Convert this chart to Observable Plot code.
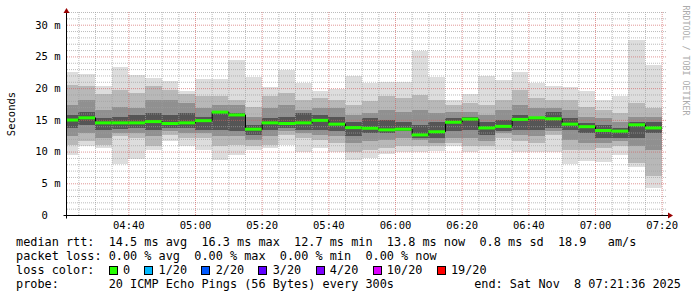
<!DOCTYPE html>
<html><head><meta charset="utf-8">
<script src="https://cdn.jsdelivr.net/npm/d3@7"></script>
<script src="https://cdn.jsdelivr.net/npm/@observablehq/plot@0.6"></script>
<style>
html,body{margin:0;padding:0;background:#fff;}
#chart{width:697px;height:297px;position:relative;overflow:hidden;background:#fff;}
#chart svg{display:block;}
#legend{font-family:"DejaVu Sans Mono",monospace;font-size:11.85px;line-height:14px;white-space:pre;color:#000;padding-left:16px;margin-top:3px;position:relative;}
.sq{display:inline-block;width:9px;height:9px;box-sizing:border-box;border:1px solid #000;vertical-align:-1px;margin-right:calc(2ch - 9px);}
#endtxt{position:absolute;right:16px;top:42px;}
</style></head><body><div id="chart"></div>
<script>
// ---- data ----
const rangeStart = "04:21:36", rangeEnd = "07:21:36";
const slots = ["04:20","04:25","04:30","04:35","04:40","04:45","04:50","04:55","05:00","05:05","05:10","05:15",
  "05:20","05:25","05:30","05:35","05:40","05:45","05:50","05:55","06:00","06:05","06:10","06:15",
  "06:20","06:25","06:30","06:35","06:40","06:45","06:50","06:55","07:00","07:05","07:10","07:15"];
const medianMs = [15.05,15.4,14.6,14.6,14.6,14.8,14.5,14.6,14.95,16.3,15.85,13.6,14.6,14.5,14.6,15.0,14.4,13.85,
  13.75,13.5,13.6,12.7,13.2,14.7,15.2,13.8,14.05,15.15,15.4,15.25,14.4,14.0,13.4,13.3,14.3,13.8];
const maxMs = [22.6,22.3,20.4,23.4,22.1,21.6,21.2,19.6,21.4,21.5,24.5,21.8,20.2,22.8,20.8,19.5,19.9,21.95,
  20.8,20.9,20.9,25.8,21.7,18.05,19.05,21.85,21.3,22.5,20.8,20.4,20.1,19.6,18.05,18.7,27.6,23.6];
const minMs = [9.5,10.95,10.6,8.0,8.85,10.3,11.6,10.95,10.3,8.7,9.5,10.3,10.6,11.05,10.0,10.5,10.0,8.6,
  9.05,9.6,9.9,10.0,10.1,10.8,9.9,10.3,10.3,9.9,9.9,10.0,8.0,8.5,8.4,9.4,7.6,4.3];
const band2Hi = [20.5,20.3,19.0,19.7,19.2,20.3,19.7,19.0,18.7,18.7,18.2,17.1,18.7,19.2,18.2,18.4,18.2,17.4,
  17.9,18.7,18.4,18.95,18.2,17.4,17.6,17.4,18.2,19.7,18.4,18.2,18.2,17.1,16.6,16.05,17.6,16.8];
const band2Lo = [11.05,11.6,11.05,12.4,12.1,10.8,12.6,12.1,12.1,10.8,11.05,10.8,11.05,12.6,12.1,11.84,11.3,10.0,
  10.3,10.5,10.8,10.8,10.8,11.3,10.8,10.8,12.1,11.6,11.3,12.6,10.3,10.3,10.5,10.8,8.2,6.1];
const band3Hi = [17.4,18.2,16.6,17.1,16.8,18.2,18.2,17.6,16.8,17.4,17.4,15.5,16.8,17.4,16.6,16.8,16.8,15.8,
  16.05,16.6,16.3,16.6,16.05,16.3,16.3,15.8,16.6,17.4,16.8,16.8,16.6,15.5,15.3,14.7,15.5,15.5];
const band3Lo = [12.4,12.9,12.1,12.9,12.9,12.4,13.2,12.9,12.9,12.4,12.4,11.84,12.4,13.2,12.9,12.6,12.4,11.3,
  11.6,11.84,12.1,11.84,11.3,12.1,12.1,11.6,12.9,12.6,12.4,13.2,11.84,11.3,11.3,11.6,10.8,10.3];
const band4Hi = [15.8,16.3,15.3,15.5,15.8,16.05,15.8,16.05,15.5,16.3,16.05,14.2,15.3,15.5,16.05,15.8,15.5,14.7,
  15.3,15.0,14.7,14.2,14.7,15.3,15.5,14.7,15.0,15.8,15.5,16.3,15.3,14.5,14.2,13.7,14.7,14.7];
const band4Lo = [13.7,14.2,13.4,13.5,13.7,13.4,13.7,13.7,13.4,13.4,13.2,12.6,13.4,13.7,13.4,13.4,13.2,12.4,
  12.9,12.9,13.2,12.1,12.1,13.2,13.4,12.6,13.2,13.4,13.4,13.7,13.4,12.9,12.1,12.1,12.1,12.9];
const xTickLabels = ["04:40","05:00","05:20","05:40","06:00","06:20","06:40","07:00","07:20"];
const yTicks = [0,5,10,15,20,25,30];
const lossLabels = ["0","1/20","2/20","3/20","4/20","10/20","19/20"];
const lossColors = ["#26ff00","#00b8ff","#0059ff","#5e00ff","#7e00ff","#dd00ff","#ff0000"];
const legendRtt = "median rtt:  14.5 ms avg  16.3 ms max  12.7 ms min  13.8 ms now  0.8 ms sd  18.9   am/s";
const legendLoss = "packet loss: 0.00 % avg  0.00 % max  0.00 % min  0.00 % now";
const legendProbe = "probe:       20 ICMP Echo Pings (56 Bytes) every 300s";
const legendEnd = "end: Sat Nov  8 07:21:36 2025";
const watermark = "RRDTOOL / TOBI OETIKER";

// ---- build ----
const t = s => { const [h, m, sec = 0] = s.split(":").map(Number); return new Date(Date.UTC(2025, 10, 8, h, m, sec)); };
const step = 5 * 60 * 1000;
const rows = slots.map((s, i) => ({
  start: t(s), end: new Date(+t(s) + step), median: medianMs[i],
  lo1: minMs[i], hi1: maxMs[i], lo2: band2Lo[i], hi2: band2Hi[i],
  lo3: band3Lo[i], hi3: band3Hi[i], lo4: band4Lo[i], hi4: band4Hi[i]
}));
const stepRows = rows.map(d => ({x: d.start, y: d.median})).concat([{x: rows[rows.length-1].end, y: rows[rows.length-1].median}]);
const x0 = t(rangeStart), x1 = t(rangeEnd);
const minorX = d3.utcMinute.every(5).range(x0, x1);
const majorX = xTickLabels.map(t);
const minorY = d3.range(1, 33);

const band = (lo, hi, fill) => Plot.rect(rows, {x1: "start", x2: "end", y1: lo, y2: hi, fill, clip: true, shapeRendering: "crispEdges"});

const svg = Plot.plot({
  width: 697, height: 232,
  marginLeft: 67, marginRight: 30, marginTop: 12, marginBottom: 17,
  x: {type: "utc", domain: [x0, x1]},
  y: {domain: [0, 32]},
  style: {fontFamily: "DejaVu Sans Mono", fontSize: "10.5px", background: "#fff", color: "#000", overflow: "visible"},
  marks: [
    band("lo1", "hi1", "#dddddd"),
    band("lo2", "hi2", "#b8b8b8"),
    band("lo3", "hi3", "#909090"),
    band("lo4", "hi4", "#555555"),
    Plot.gridY(minorY.filter(v => v % 5), {stroke: "#a0a0a0", strokeOpacity: 0.7, strokeDasharray: "1,1"}),
    Plot.gridX(minorX.filter(d => !majorX.some(m => +m === +d)), {stroke: "#a0a0a0", strokeOpacity: 0.7, strokeDasharray: "1,1"}),
    Plot.gridY(yTicks.filter(v => v > 0), {stroke: "#d06060", strokeOpacity: 0.65, strokeDasharray: "1,1"}),
    Plot.gridX(majorX, {stroke: "#d06060", strokeOpacity: 0.65, strokeDasharray: "1,1"}),
    Plot.line(stepRows, {x: "x", y: "y", curve: "step-after", stroke: "#000", strokeWidth: 1, clip: true}),
    Plot.ruleY(rows, {x1: "start", x2: "end", y: "median", stroke: lossColors[0], strokeWidth: 3, clip: true}),
    Plot.axisY(yTicks, {tickSize: 0, tickPadding: 7, tickFormat: v => v === 0 ? "0\u00a0\u00a0" : v + " m",
      label: "Seconds", labelAnchor: "center", labelOffset: 60, labelArrow: "none"}),
    Plot.axisX(majorX, {tickSize: 0, tickPadding: 6, tickFormat: d3.utcFormat("%H:%M"), label: null}),
    Plot.text([watermark], {frameAnchor: "top-right", rotate: 90, dx: 21, dy: -7, textAnchor: "start",
      fill: "#ababab", fontSize: 8.3})
  ]
});

// axis lines and arrows (positions from the scales)
const sx = svg.scale("x"), sy = svg.scale("y");
const ax = Math.round(sx.apply(x0)) - 0.5, ay = Math.round(sy.apply(0)) + 0.5;
const topY = sy.apply(32), rightX = sx.apply(x1);
const g = d3.select(svg).append("g");
g.append("line").attr("x1", ax).attr("x2", ax).attr("y1", ay + 3).attr("y2", topY - 3).attr("stroke", "#000");
g.append("line").attr("x1", ax - 3).attr("x2", rightX + 4).attr("y1", ay).attr("y2", ay).attr("stroke", "#000");
g.append("polygon").attr("points", `${ax-3},${topY+1} ${ax+3},${topY+1} ${ax},${topY-4}`).attr("fill", "#990000");
g.append("polygon").attr("points", `${rightX+1},${ay-3} ${rightX+1},${ay+3} ${rightX+6},${ay}`).attr("fill", "#990000");

const chart = document.getElementById("chart");
chart.appendChild(svg);

// legend (below the SVG)
const legend = document.createElement("div");
legend.id = "legend";
const line = txt => { const d = document.createElement("div"); d.textContent = txt; return d; };
legend.appendChild(line(legendRtt));
legend.appendChild(line(legendLoss));
const lossLine = document.createElement("div");
lossLine.appendChild(document.createTextNode("loss color:  "));
lossLabels.forEach((lab, i) => {
  const sq = document.createElement("span");
  sq.className = "sq"; sq.style.background = lossColors[i];
  lossLine.appendChild(sq);
  lossLine.appendChild(document.createTextNode(lab + (i < lossLabels.length - 1 ? "  " : "")));
});
legend.appendChild(lossLine);
const probeLine = line(legendProbe);
const endSpan = document.createElement("span");
endSpan.id = "endtxt"; endSpan.textContent = legendEnd;
legend.appendChild(probeLine);
legend.appendChild(endSpan);
chart.appendChild(legend);
</script>
</body></html>
